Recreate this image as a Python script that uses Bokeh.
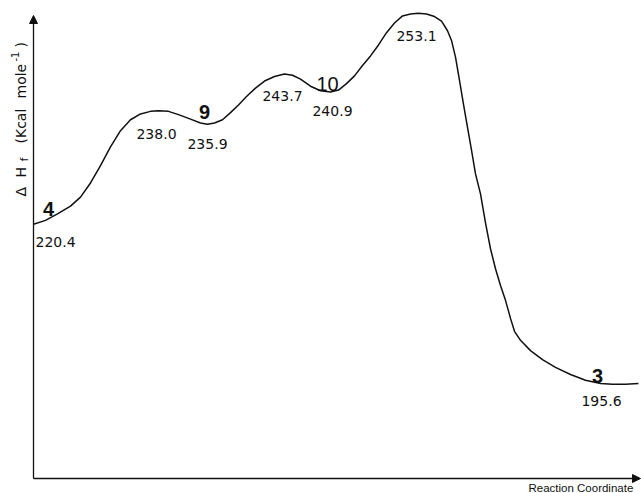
import math
from bokeh.plotting import figure
from bokeh.models import Range1d, Arrow, NormalHead
from bokeh.core.properties import value
from bokeh.embed import file_html
from bokeh.resources import INLINE

# ---- data: reaction coordinate (arbitrary units) and heat of formation (kcal/mol) ----
rc = [0, 12, 24, 37, 47, 57, 67, 77, 87, 97,
      107, 117, 125, 135, 145, 157, 167, 174, 181, 189,
      197, 205, 213, 222, 231, 241, 251, 259, 267, 277,
      287, 297, 305, 313, 321, 329, 337, 345, 353, 361,
      369, 377, 385, 393, 401, 408, 414, 418, 422, 426,
      430, 434, 438, 442, 447, 452, 457, 462, 467, 472,
      477, 481, 487, 497, 509, 522, 537, 552, 567, 579,
      592, 605]
dHf = [220.4, 221.0, 222.0, 223.2, 224.6, 226.8, 229.5, 232.4, 234.9, 236.6,
       237.5, 237.9, 238.0, 237.9, 237.4, 236.7, 236.1, 235.9, 236.1, 236.6,
       237.7, 238.9, 240.2, 241.5, 242.6, 243.3, 243.7, 243.5, 242.9, 241.8,
       241.1, 240.9, 241.2, 242.2, 243.4, 245.0, 246.5, 248.2, 250.1, 251.6,
       252.7, 253.0, 253.1, 253.0, 252.6, 251.9, 250.4, 248.9, 246.3, 242.7,
       239.0, 235.4, 231.9, 228.2, 225.1, 220.6, 216.6, 213.5, 210.9, 208.6,
       205.8, 203.8, 202.4, 200.8, 199.4, 198.2, 197.1, 196.2, 195.7, 195.6,
       195.6, 195.7]

# stationary points and their labels
stat_x = [0, 125, 174, 251, 297, 385, 568]
stat_E = [220.4, 238.0, 235.9, 243.7, 240.9, 253.1, 195.6]
stat_text = ["220.4", "238.0", "235.9", "243.7", "240.9", "253.1", "195.6"]

# compound numbers and which stationary point they belong to
compounds = ["4", "9", "10", "3"]
compound_point = [0, 2, 4, 6]

# ---- layout ----
W, H = 641, 493
X_START, X_END = -33, 608
Y_START, Y_END = 178.65, 255.09
XS = W / (X_END - X_START)          # px per rc unit
YS = H / (Y_END - Y_START)          # px per kcal


def page(px, py):
    """page pixel -> data coordinates"""
    return (X_START + px / XS, Y_END - py / YS)


p = figure(width=W, height=H, output_backend="svg", toolbar_location=None,
           x_range=Range1d(X_START, X_END), y_range=Range1d(Y_START, Y_END),
           x_axis_type=None, y_axis_type=None, min_border=0,
           background_fill_color="white", border_fill_color="white")
p.outline_line_color = None
p.xgrid.visible = False
p.ygrid.visible = False

INK = "#111111"

# axes with arrows
_, y_axis_bottom = page(33, 478)
_, y_axis_top = page(33, 15)
p.add_layout(Arrow(x_start=0, y_start=y_axis_bottom, x_end=0, y_end=y_axis_top,
                   line_color=INK, line_width=1.3,
                   end=NormalHead(size=8, fill_color=INK, line_color=INK)))
x_axis_end, _ = page(640, 478)
p.add_layout(Arrow(x_start=0, y_start=y_axis_bottom, x_end=x_axis_end, y_end=y_axis_bottom,
                   line_color=INK, line_width=1.3,
                   end=NormalHead(size=8, fill_color=INK, line_color=INK)))

# energy profile
p.line(rc, dHf, line_color=INK, line_width=1.5, line_join="round")

# value labels (pixel offsets from the stationary points)
val_dx = [2, -2, 0, -2, 2, -2, 0]
val_dy = [18, 23, 20, 22, 19, 23, 17]
val_align = ["left", "center", "center", "center", "center", "center", "center"]
for i, t in enumerate(stat_text):
    p.text(x=[stat_x[i] + val_dx[i] / XS], y=[stat_E[i] - val_dy[i] / YS], text=[t],
           text_align=val_align[i], text_baseline="alphabetic",
           text_font=value("DejaVu Sans"), text_font_size="14px", text_color=INK)

# compound numbers
cmp_dx = [15, -3, -3, -4]
cmp_dy = [-15, -12, -8, -8]
cmp_style = ["bold", "bold", "normal", "bold"]
for j, name in enumerate(compounds):
    k = compound_point[j]
    p.text(x=[stat_x[k] + cmp_dx[j] / XS], y=[stat_E[k] - cmp_dy[j] / YS], text=[name],
           text_align="center", text_baseline="alphabetic",
           text_font=value("Liberation Sans"), text_font_style=cmp_style[j],
           text_font_size="20px", text_color=INK)

# y-axis title, rotated, built from pieces (sub/superscripts)
ylab = [("\u0394", 20, 196, "14px"), ("H", 20, 177, "14px"), ("f", 24, 161, "11px"),
        ("(Kcal", 20, 143, "14px"), ("mole", 20, 98, "14px"), ("-1", 14, 61, "10px"),
        (")", 20, 47, "14px")]
for t, px, py, fs in ylab:
    x, y = page(px, py)
    p.text(x=[x], y=[y], text=[t], angle=math.pi / 2, text_align="left",
           text_baseline="middle", text_font=value("DejaVu Sans"),
           text_font_size=fs, text_color=INK)

# x-axis title
xt, yt = page(636, 487)
p.text(x=[xt], y=[yt], text=["Reaction  Coordinate"], text_align="right",
       text_baseline="alphabetic", text_font=value("Liberation Sans"),
       text_font_size="11.5px", text_color=INK)

open("out.html", "w").write(file_html(p, INLINE))
